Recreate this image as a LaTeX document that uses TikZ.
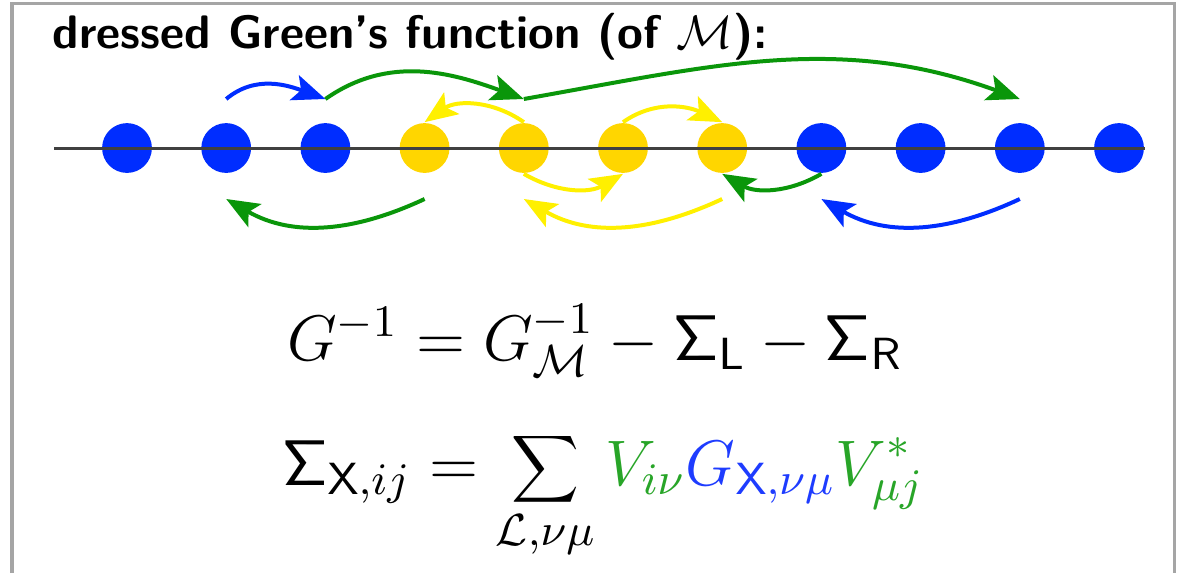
\RequirePackage{fix-cm}
\documentclass[tikz,border=0pt]{standalone}
\usetikzlibrary{arrows.meta}
\definecolor{siteblue}{RGB}{0,45,255}
\definecolor{sitegold}{RGB}{255,214,0}
\definecolor{hopyellow}{RGB}{255,240,0}
\definecolor{hopgreen}{RGB}{10,150,10}
\definecolor{eqgreen}{RGB}{40,165,40}
\definecolor{eqblue}{RGB}{30,60,255}
\definecolor{framegray}{RGB}{165,165,165}
\begin{document}
\begin{tikzpicture}[x=0.2128pt,y=-0.2128pt,
  every node/.style={inner sep=0pt},
  site/.style={circle,minimum size=10.6pt},
  hop/.style={line width=0.85pt,-{Stealth[length=7pt,width=5.6pt,inset=1.5pt]}},
  eq/.style={anchor=base,font=\fontsize{13.7}{16}\selectfont}]
\useasboundingbox (0,0) rectangle (1189,573);
\draw[framegray,line width=0.64pt] (12,573) |- (1174,3) -- (1174,573);
\node[anchor=base west,font=\sffamily\bfseries] (title) at (52,48) {dressed Green's function (of $\mathcal{M}$):};
% the chain of sites
\foreach \i in {1,...,11} {
  \pgfmathsetmacro{\px}{127+99.2*(\i-1)}
  \ifnum\i<4 \def\sitecol{siteblue}\else\ifnum\i<8 \def\sitecol{sitegold}\else\def\sitecol{siteblue}\fi\fi
  \node[site,fill=\sitecol] (s\i) at (\px,148) {};
  \coordinate (u\i) at (\px,99);
  \coordinate (d\i) at (\px,199);
}
\coordinate (lineL) at (54,148);
\draw[black!75,line width=0.64pt] (lineL) -- (s11.east);
% hops above the chain
\draw[hop,siteblue] (u2) to[out=40,in=160] (u3);
\draw[hop,hopgreen] (u3) to[out=35,in=160] (u5);
\draw[hop,hopgreen] (u5) to[out=10,in=160] (u10);
\draw[hop,hopyellow] (s5.north) to[out=145,in=35] (s4.north);
\draw[hop,hopyellow] (s6.north) to[out=35,in=155] (s7.north);
% hops below the chain
\draw[hop,hopgreen] (d4) to[out=205,in=-30] (d2);
\draw[hop,hopyellow] (s5.south) to[out=-30,in=210] (s6.south);
\draw[hop,hopyellow] (d7) to[out=205,in=-30] (d5);
\draw[hop,hopgreen] (s8.south) to[out=210,in=-30] (s7.south);
\draw[hop,siteblue] (d10) to[out=205,in=-30] (d8);
% equations
\node[eq] (dyson) at (595,360) {$G^{-1}=G^{-1}_{\mathcal{M}}-\mathsf{\Sigma}_{\mathsf{L}}-\mathsf{\Sigma}_{\mathsf{R}}$};
\node[eq] (selfen) at (603,485) {$\displaystyle\mathsf{\Sigma}_{\mathsf{X},ij}=\sum_{\mathcal{L},\nu\mu}\textcolor{eqgreen}{V_{i\nu}}\textcolor{eqblue}{G_{\mathsf{X},\nu\mu}}\textcolor{eqgreen}{V^{*}_{\mu j}}$};
\end{tikzpicture}
\end{document}
